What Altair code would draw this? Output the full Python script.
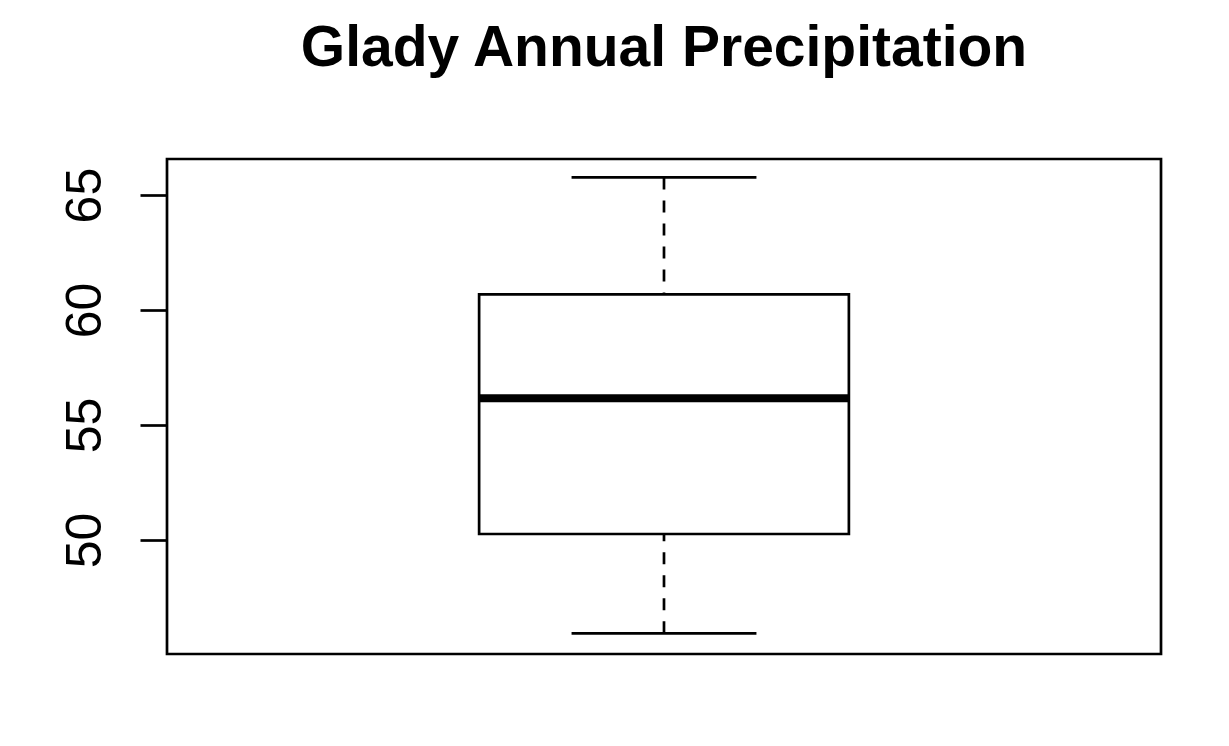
import altair as alt
import pandas as pd

# Box statistics (inches)
stat_names = ["lower_whisker", "q1", "median", "q3", "upper_whisker"]
stat_values = [45.94, 50.26, 56.16, 60.68, 65.77]
group_position = [1]
y_ticks = [50, 55, 60, 65]

d = dict(zip(stat_names, stat_values))
d["pos"] = group_position[0]
df = pd.DataFrame([d])

BOX_HALF = 0.186
CAP_HALF = 0.093
LW = 2.7

xscale = alt.Scale(domain=[0.5, 1.5], nice=False, zero=False)
yscale = alt.Scale(domain=[45.04, 66.57], nice=False, zero=False)

base = alt.Chart(df).transform_calculate(
    boxL=f"datum.pos - {BOX_HALF}",
    boxR=f"datum.pos + {BOX_HALF}",
    capL=f"datum.pos - {CAP_HALF}",
    capR=f"datum.pos + {CAP_HALF}",
)

xenc = alt.X("pos:Q", scale=xscale, axis=None)
yaxis = alt.Axis(
    values=y_ticks, grid=False, domain=False, ticks=True, tickSize=27,
    tickWidth=LW, tickColor="black", labelAngle=270, labelAlign="center",
    labelBaseline="alphabetic", labelPadding=40, labelFontSize=50,
    labelFont="Liberation Sans", labelColor="black", title=None,
)

upper = base.mark_rule(color="black", strokeWidth=LW, strokeDash=[12, 11]).encode(
    x=xenc, y=alt.Y("upper_whisker:Q", scale=yscale, axis=yaxis), y2="q3:Q")
lower = base.mark_rule(color="black", strokeWidth=LW, strokeDash=[12, 11]).encode(
    x=xenc, y=alt.Y("lower_whisker:Q", scale=yscale), y2="q1:Q")
cap_hi = base.mark_rule(color="black", strokeWidth=LW).encode(
    x=alt.X("capL:Q", scale=xscale, axis=None), x2="capR:Q",
    y=alt.Y("upper_whisker:Q", scale=yscale))
cap_lo = base.mark_rule(color="black", strokeWidth=LW).encode(
    x=alt.X("capL:Q", scale=xscale, axis=None), x2="capR:Q",
    y=alt.Y("lower_whisker:Q", scale=yscale))
box = base.mark_rect(fill="white", stroke="black", strokeWidth=LW).encode(
    x=alt.X("boxL:Q", scale=xscale, axis=None), x2="boxR:Q",
    y=alt.Y("q1:Q", scale=yscale), y2="q3:Q")
med = base.mark_rule(color="black", strokeWidth=8, strokeCap="butt").encode(
    x=alt.X("boxL:Q", scale=xscale, axis=None), x2="boxR:Q",
    y=alt.Y("median:Q", scale=yscale))

chart = alt.layer(upper, lower, cap_hi, cap_lo, box, med).properties(
    width=994, height=495,
    title=alt.TitleParams("Glady Annual Precipitation", font="Liberation Sans",
                          fontSize=57, fontWeight="bold", color="black",
                          anchor="middle", offset=81),
    autosize=alt.AutoSizeParams(type="none"),
    padding={"left": 167, "top": 159, "right": 68, "bottom": 92},
).configure(
    background="white",
    view=alt.ViewConfig(stroke="black", strokeWidth=LW),
)

chart.save("out.html", embed_options={"renderer": "svg", "actions": False})
